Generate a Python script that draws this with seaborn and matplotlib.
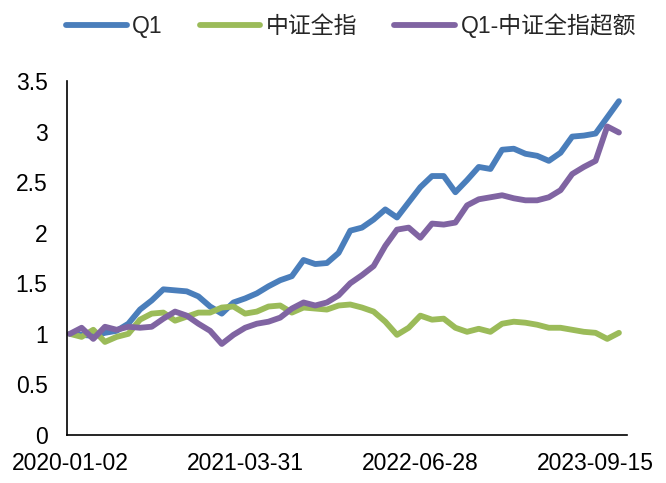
import seaborn as sns
import matplotlib.pyplot as plt
import pandas as pd

# monthly points, index 0..47
q1 = [1.00, 0.99, 0.98, 1.01, 1.03, 1.10, 1.24, 1.33, 1.44, 1.43, 1.42, 1.37,
      1.27, 1.20, 1.31, 1.35, 1.40, 1.47, 1.53, 1.57, 1.73, 1.69, 1.70, 1.80,
      2.02, 2.05, 2.13, 2.23, 2.15, 2.30, 2.45, 2.56, 2.56, 2.40, 2.52, 2.65,
      2.63, 2.82, 2.83, 2.78, 2.76, 2.71, 2.79, 2.95, 2.96, 2.98, 3.14, 3.30]
csi_all = [1.00, 0.97, 1.04, 0.92, 0.97, 1.00, 1.14, 1.20, 1.21, 1.13, 1.17, 1.21,
           1.21, 1.26, 1.27, 1.20, 1.22, 1.27, 1.28, 1.21, 1.26, 1.25, 1.24, 1.28,
           1.29, 1.26, 1.22, 1.12, 0.99, 1.06, 1.18, 1.14, 1.15, 1.06, 1.02, 1.05,
           1.02, 1.10, 1.12, 1.11, 1.09, 1.06, 1.06, 1.04, 1.02, 1.01, 0.95, 1.01]
excess = [1.00, 1.06, 0.95, 1.07, 1.04, 1.07, 1.06, 1.07, 1.15, 1.22, 1.18, 1.10,
          1.03, 0.90, 0.99, 1.06, 1.10, 1.12, 1.16, 1.25, 1.31, 1.28, 1.31, 1.38,
          1.50, 1.58, 1.67, 1.87, 2.03, 2.05, 1.95, 2.09, 2.08, 2.10, 2.27, 2.33,
          2.35, 2.37, 2.34, 2.32, 2.32, 2.35, 2.42, 2.58, 2.65, 2.71, 3.05, 2.99]

names = ['Q1', '中证全指', 'Q1-中证全指超额']
colors = ['#4A7EBB', '#9BBB59', '#8064A2']
tick_pos = [0, 15, 30, 45]
tick_labels = ['2020-01-02', '2021-03-31', '2022-06-28', '2023-09-15']
y_ticks = [0, 0.5, 1, 1.5, 2, 2.5, 3, 3.5]
y_labels = ['0', '0.5', '1', '1.5', '2', '2.5', '3', '3.5']

df = pd.concat([
    pd.DataFrame({'idx': range(len(v)), 'val': v, 'series': n})
    for n, v in zip(names, [q1, csi_all, excess])
])

sns.set_style('white')
plt.rcParams['font.family'] = ['Liberation Sans', 'Noto Sans CJK SC']

fig = plt.figure(figsize=(6.66, 4.83), dpi=100)
ax = fig.add_axes([0.1006, 0.0994, 0.841, 0.733])
sns.lineplot(data=df, x='idx', y='val', hue='series', palette=colors,
             linewidth=4.2, ax=ax, legend=False)

ax.set_xlim(-0.25, 47.7)
ax.set_ylim(0, 3.5)
ax.set_xticks(tick_pos)
ax.set_xticklabels(tick_labels)
ax.set_yticks(y_ticks)
ax.set_yticklabels(y_labels)
ax.set_xlabel('')
ax.set_ylabel('')
ax.tick_params(axis='both', direction='in', length=6, width=1.2,
               labelsize=16.5, colors='black')
ax.tick_params(axis='y', pad=14)
ax.tick_params(axis='x', pad=12)
for s in ['top', 'right']:
    ax.spines[s].set_visible(False)
for s in ['left', 'bottom']:
    ax.spines[s].set_color('black')
    ax.spines[s].set_linewidth(1.2)

handles = [plt.Line2D([], [], color=c, linewidth=4.2, solid_capstyle='round')
           for c in colors]
fig.legend(handles, names, loc='center', bbox_to_anchor=(0.527, 0.946),
           ncol=3, frameon=False, fontsize=16.5, handlelength=2.65,
           handletextpad=0.25, columnspacing=1.6)

fig.savefig('out.png', dpi=100)
